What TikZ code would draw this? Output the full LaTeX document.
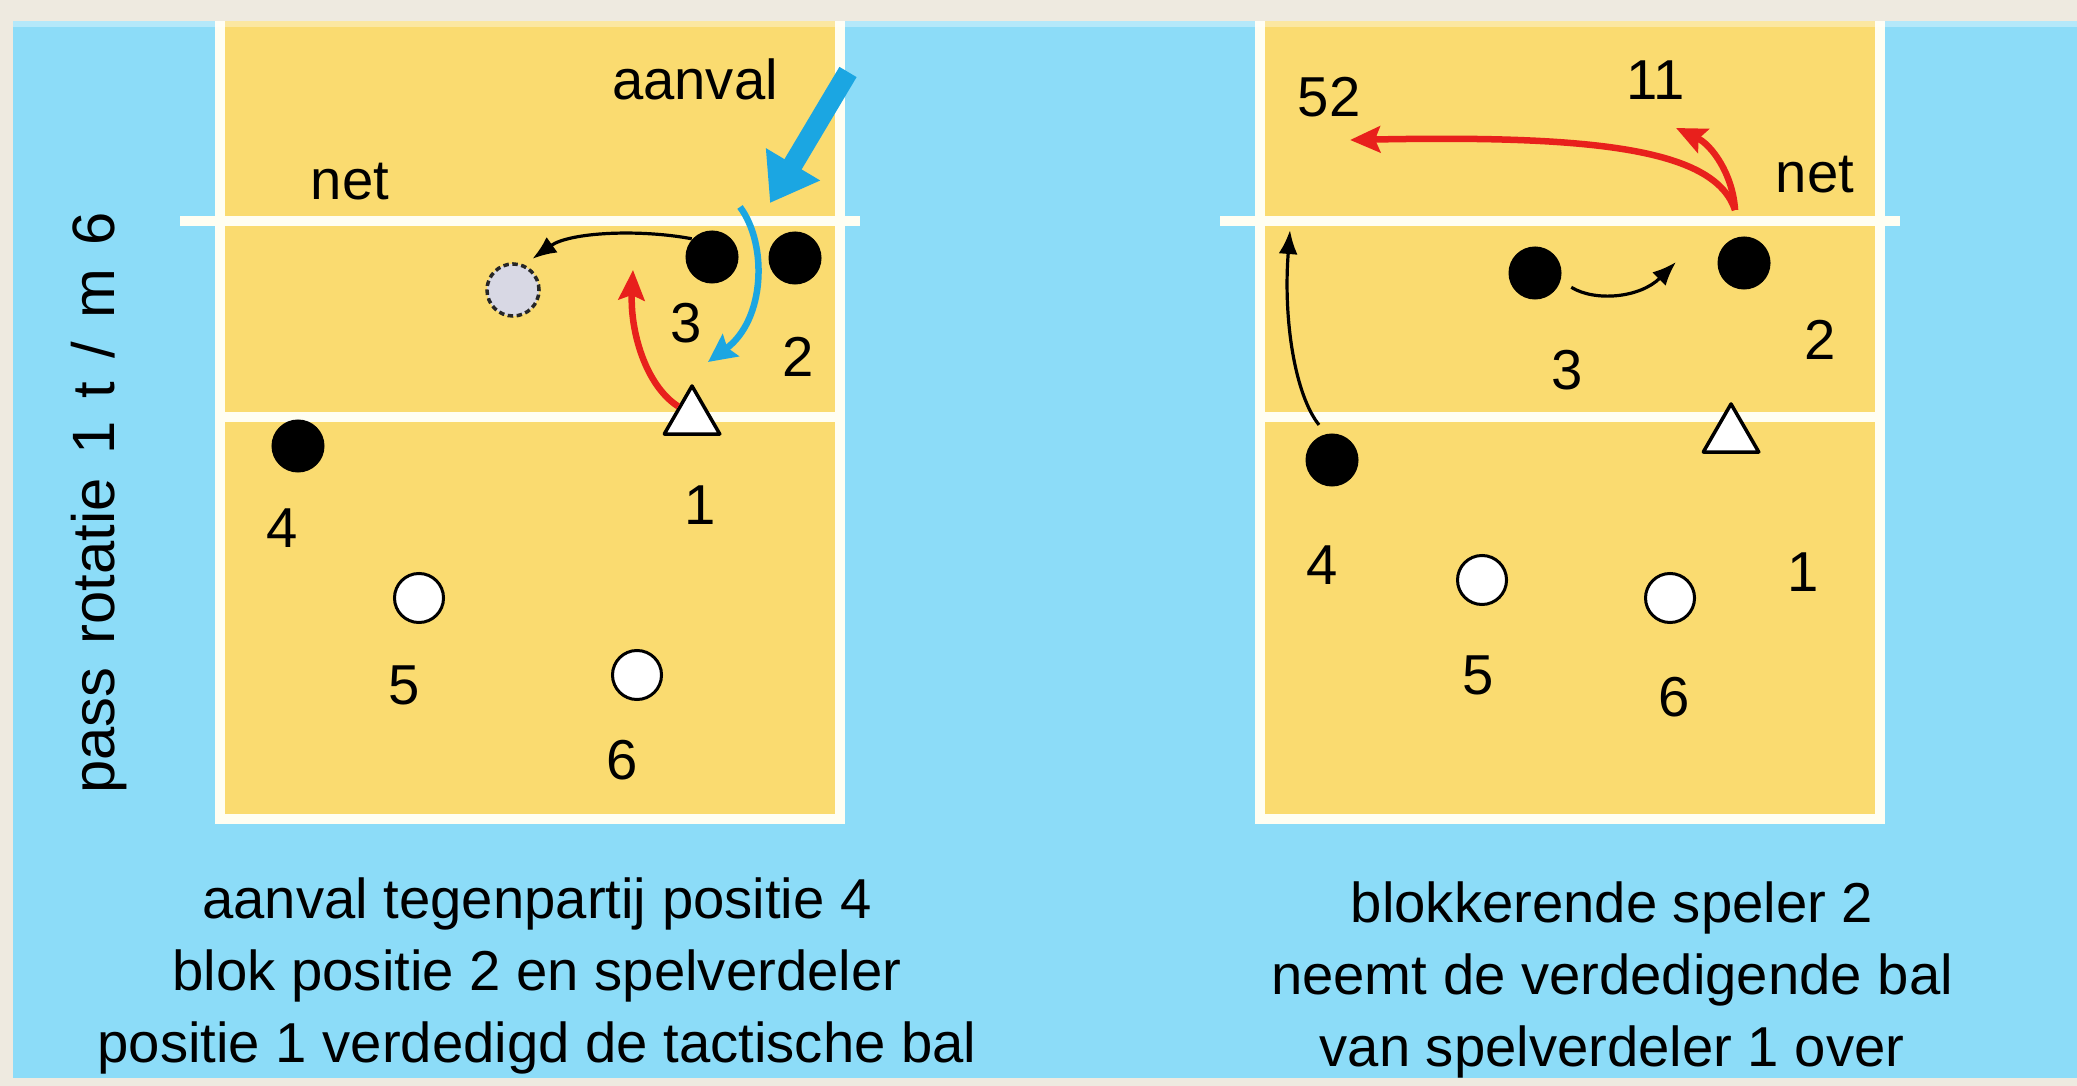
\documentclass[tikz,border=0pt]{standalone}
\usepackage{fontspec}
\setmainfont{Liberation Sans}
\newfontfamily\titlefont[WordSpace=1.4]{Liberation Sans}
\usetikzlibrary{arrows.meta,shapes.geometric}
\definecolor{frame}{RGB}{238,234,224}
\definecolor{sky}{RGB}{140,220,248}
\definecolor{court}{RGB}{250,219,112}
\definecolor{courtline}{RGB}{255,254,242}
\definecolor{ballblue}{RGB}{27,166,226}
\definecolor{movered}{RGB}{232,32,28}
\definecolor{ghost}{RGB}{216,216,228}
\begin{document}
\begin{tikzpicture}[x=0.01cm, y=-0.01cm,
  blocker/.style={circle, fill=black, minimum size=0.53cm, inner sep=0pt},
  backrow/.style={circle, fill=white, draw=black, line width=0.03cm, minimum size=0.49cm, inner sep=0pt},
  ghostball/.style={circle, fill=ghost, draw=black!85, dash pattern=on 0.055cm off 0.035cm, line width=0.035cm, minimum size=0.52cm, inner sep=0pt},
  setter/.style={regular polygon, regular polygon sides=3, fill=white, draw=black, line width=0.035cm, line join=round, minimum size=0.64cm, inner sep=0pt},
  num/.style={font=\fontsize{16}{19}\selectfont, inner sep=0pt},
  tag/.style={num, anchor=base},
  caption/.style={num, anchor=base},
  lines/.style={draw=courtline, line width=0.1cm},
  runarrow/.style={draw=black, line width=0.032cm, -{Latex[length=0.24cm,width=0.19cm]}},
  passarrow/.style={draw=movered, line width=0.065cm, -{Stealth[length=0.3cm,width=0.26cm,inset=0.05cm]}},
  deflect/.style={draw=ballblue, line width=0.065cm, -{Stealth[length=0.28cm,width=0.27cm,inset=0.04cm]}},
  spike/.style={draw=ballblue, line width=0.2cm, -{Triangle[length=0.45cm,width=0.6cm]}}
]
\useasboundingbox (0,0) rectangle (2077,1086);

% backdrop
\fill[frame] (0,0) rectangle (2077,1086);
\fill[sky] (13,21) rectangle (2077,1078);

% the two half courts with net and attack line
\foreach \cx in {220,1260} {
  \fill[court] (\cx,21) rectangle (\cx+620,819);
  \draw[lines, line join=miter] (\cx,21) -- (\cx,819) -- (\cx+620,819) -- (\cx+620,21);
  \draw[lines] (\cx,417) -- (\cx+620,417);
  \draw[lines] (\cx-40,221) -- (\cx+640,221);
}
\fill[white, opacity=0.35] (13,21) rectangle (2077,27);

% side title
\node[font=\titlefont\fontsize{17}{20}\selectfont, inner sep=0pt, rotate=90, anchor=base] (title) at (114,503) {pass rotatie 1 t / m 6};

% ---------- left court: attack of the opponent ----------
\node[blocker] (L3) at (712,257) {};
\node[blocker] (L2) at (795,258) {};
\node[blocker] (L4) at (298,446) {};
\node[backrow] (L5) at (419,598) {};
\node[backrow] (L6) at (637,675) {};
\node[ghostball] (LG) at (513,290) {};
\node[setter] (L1) at (692,418) {};

\node[num] (L3n) at (686,323) {3};
\node[num] (L2n) at (798,357) {2};
\node[num] (L4n) at (282,528) {4};
\node[num] (L5n) at (404,685) {5};
\node[num] (L6n) at (622,760) {6};
\node[num] (L1n) at (700,505) {1};
\node[tag] (Lnet) at (350,200) {net};
\node[tag] (Latk) at (695,100) {aanval};

\coordinate (spikeFrom) at (848,72);
\coordinate (spikeTo) at (770,203);
\coordinate (deflFrom) at (740,207);
\coordinate (deflTo) at (708,362);
\coordinate (digTo) at (633,270);

\draw[spike] (spikeFrom) -- (spikeTo);
\draw[deflect] (deflFrom) .. controls (768,245) and (765,320) .. (deflTo);
\draw[runarrow, shorten >=0.1cm] (L3.138) .. controls (640,229) and (570,232) .. (LG.66);
\draw[passarrow] (L1.140) .. controls (645,385) and (630,330) .. (digTo);

\node[caption] (Lcap1) at (537,918) {aanval tegenpartij positie 4};
\node[caption] (Lcap2) at (537,990) {blok positie 2 en spelverdeler};
\node[caption] (Lcap3) at (537,1062) {positie 1 verdedigd de tactische bal};

% ---------- right court: blocker 2 takes over the defence ----------
\node[blocker] (R3) at (1535,273) {};
\node[blocker] (R2) at (1744,263) {};
\node[blocker] (R4) at (1332,460) {};
\node[backrow] (R5) at (1482,580) {};
\node[backrow] (R6) at (1670,598) {};
\node[setter] (R1) at (1731,436) {};

\node[num] (R3n) at (1567,370) {3};
\node[num] (R2n) at (1820,340) {2};
\node[num] (R4n) at (1322,565) {4};
\node[num] (R5n) at (1478,675) {5};
\node[num] (R6n) at (1674,697) {6};
\node[num] (R1n) at (1803,572) {1};
\node[tag] (Rnet) at (1815,193) {net};
\node[tag] (R52) at (1329,117) {52};
\node[tag] (R11) at (1656,100) {11};

\coordinate (overNet) at (1735,210);
\coordinate (to52) at (1350,140);
\coordinate (to11) at (1676,128);
\coordinate (R4to) at (1290,230);
\coordinate (R3to) at (1676,262);

\draw[passarrow] (overNet) .. controls (1715,150) and (1600,135) .. (to52);
\draw[passarrow] (overNet) .. controls (1733,175) and (1712,145) .. (to11);
\draw[runarrow, shorten <=0.11cm] (R4.103) .. controls (1295,395) and (1283,320) .. (R4to);
\draw[runarrow, shorten <=0.12cm] (R3.-17) .. controls (1595,302) and (1640,298) .. (R3to);

\node[caption] (Rcap1) at (1612,922) {blokkerende speler 2};
\node[caption] (Rcap2) at (1612,994) {neemt de verdedigende bal};
\node[caption] (Rcap3) at (1612,1066) {van spelverdeler 1 over};
\end{tikzpicture}
\end{document}
